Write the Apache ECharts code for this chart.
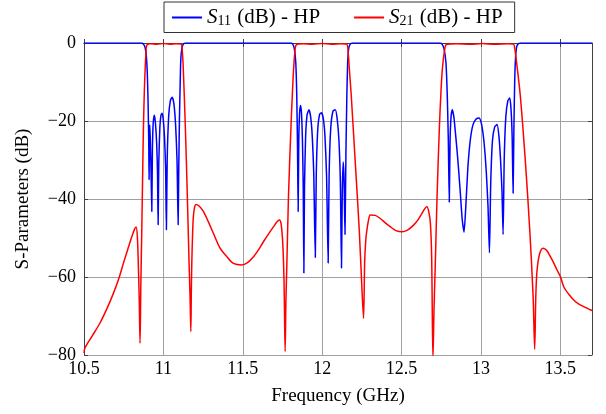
<!DOCTYPE html>
<html>
<head>
<meta charset="utf-8">
<script src="https://cdn.jsdelivr.net/npm/echarts@6.0.0/dist/echarts.min.js"></script>
<style>
  html, body { margin: 0; padding: 0; background: #fff; }
  #chart { width: 606px; height: 414px; }
</style>
</head>
<body>
<div id="chart"></div>
<script>
// S11 (dB) - HP as [GHz, dB]
const s11Points = [
  [10.50, 0], [10.86, 0], [10.875, -0.3], [10.885, -1.2], [10.893, -3.5], [10.899, -8],
  [10.904, -16], [10.908, -26], [10.910, -35], [10.912, -24], [10.914, -21], [10.917, -24],
  [10.922, -32], [10.927, -43.2], [10.931, -27], [10.936, -20.5], [10.943, -18.5], [10.950, -20.5],
  [10.958, -26], [10.963, -33], [10.967, -46.6], [10.971, -31], [10.978, -21.5], [10.985, -18.5],
  [10.992, -18], [10.999, -19.5], [11.007, -24], [11.014, -32], [11.019, -47.9], [11.024, -30],
  [11.033, -19], [11.044, -14.8], [11.055, -13.9], [11.066, -15.5], [11.077, -21], [11.086, -30],
  [11.093, -46.6], [11.097, -32], [11.101, -20], [11.106, -10], [11.110, -4], [11.116, -1.5],
  [11.124, -0.4], [11.14, 0],
  [11.80, 0], [11.815, -0.3], [11.825, -1.5], [11.834, -5], [11.840, -13], [11.845, -27],
  [11.849, -43.2], [11.853, -25], [11.858, -18], [11.864, -16], [11.870, -18], [11.876, -25],
  [11.881, -37], [11.885, -59], [11.889, -37], [11.896, -24], [11.905, -18.5], [11.917, -17.1],
  [11.928, -19], [11.938, -24], [11.947, -33], [11.957, -55], [11.963, -34], [11.972, -22.5],
  [11.984, -18.3], [11.996, -17.9], [12.008, -19.5], [12.018, -24], [12.028, -34], [12.038, -56.4],
  [12.044, -34], [12.054, -22], [12.068, -17.5], [12.083, -17.1], [12.095, -19.5], [12.106, -25],
  [12.115, -36], [12.122, -57.7], [12.127, -38], [12.133, -30.5], [12.138, -35], [12.144, -49.1],
  [12.150, -28], [12.156, -13], [12.161, -5], [12.167, -1.5], [12.175, -0.4], [12.19, 0],
  [12.74, 0], [12.755, -0.3], [12.768, -1.5], [12.780, -5], [12.788, -13], [12.795, -25],
  [12.801, -40.8], [12.806, -25], [12.812, -19], [12.820, -17.1], [12.830, -19], [12.842, -24],
  [12.855, -30], [12.868, -37], [12.882, -45], [12.894, -48.5], [12.905, -42], [12.918, -32],
  [12.933, -25], [12.950, -21], [12.970, -19.5], [12.989, -19.2], [13.005, -21], [13.020, -25.5],
  [13.034, -33], [13.045, -42], [13.054, -53.8], [13.062, -36], [13.073, -25], [13.087, -21.5],
  [13.102, -20.9], [13.114, -24], [13.124, -30], [13.133, -38], [13.140, -49.1], [13.147, -30],
  [13.157, -19], [13.170, -14.8], [13.182, -14.1], [13.190, -17], [13.197, -24], [13.203, -38.5],
  [13.208, -22], [13.213, -10], [13.218, -4], [13.224, -1.3], [13.232, -0.4], [13.25, 0],
  [13.70, 0]
];

// S21 (dB) - HP as [GHz, dB]
const s21Points = [
  [10.50, -79.5], [10.506, -78.2], [10.55, -75.2], [10.601, -71.8], [10.65, -67.6], [10.685, -64.2],
  [10.72, -60.3], [10.748, -56.5], [10.775, -53], [10.801, -49.7], [10.818, -47.8], [10.828, -47.2],
  [10.836, -49.5], [10.842, -56.5], [10.848, -66], [10.853, -77], [10.858, -62], [10.864, -48],
  [10.869, -35], [10.874, -22.3], [10.880, -12.5], [10.885, -6.9], [10.890, -2.8], [10.895, -0.6],
  [10.92, -0.2], [10.96, -0.3], [11.00, -0.15], [11.04, -0.3], [11.08, -0.2], [11.112, -0.3],
  [11.118, -1.5], [11.124, -5.2], [11.139, -22.3], [11.151, -39.4], [11.162, -56.5], [11.168, -65],
  [11.173, -74], [11.176, -64], [11.179, -56.5], [11.184, -49], [11.189, -44.5], [11.197, -42],
  [11.206, -41.4], [11.225, -41.8], [11.252, -43.2], [11.285, -46], [11.315, -48.8], [11.357, -52.6],
  [11.400, -54.8], [11.441, -56.5], [11.494, -56.9], [11.530, -56.3], [11.568, -54.8], [11.600, -53],
  [11.631, -50.9], [11.665, -48.8], [11.694, -47.1], [11.715, -45.9], [11.731, -45.4], [11.742, -46.5],
  [11.752, -51.4], [11.760, -61], [11.767, -79.1], [11.772, -66], [11.778, -56.5], [11.788, -39.4],
  [11.803, -22.3], [11.812, -13.5], [11.820, -6.9], [11.828, -2.5], [11.837, -0.5],
  [11.88, -0.2], [11.94, -0.3], [12.00, -0.15], [12.06, -0.3], [12.12, -0.2], [12.155, -0.3],
  [12.165, -3], [12.172, -7], [12.184, -13.8], [12.209, -30.8], [12.234, -48], [12.253, -65],
  [12.261, -70.6], [12.268, -56], [12.275, -50.5], [12.282, -48], [12.292, -45.5], [12.303, -44.1],
  [12.335, -44.2], [12.366, -45], [12.400, -46.2], [12.429, -47.1], [12.465, -48.1], [12.503, -48.4],
  [12.540, -47.9], [12.576, -46.7], [12.605, -45.3], [12.629, -43.7], [12.648, -42.4], [12.660, -42],
  [12.672, -43.3], [12.682, -46.2], [12.690, -55], [12.698, -81], [12.705, -68], [12.713, -56.5],
  [12.724, -39.4], [12.738, -22.3], [12.748, -13], [12.757, -6.9], [12.770, -2.3], [12.783, -0.4],
  [12.85, -0.2], [12.93, -0.3], [13.01, -0.15], [13.09, -0.3], [13.17, -0.2], [13.205, -0.3],
  [13.215, -1.8], [13.225, -5], [13.249, -13.8], [13.281, -30.8], [13.308, -48], [13.329, -65],
  [13.339, -78.5], [13.346, -65], [13.354, -58.2], [13.371, -53.9], [13.392, -52.6], [13.415, -53.2],
  [13.438, -54.8], [13.460, -56.5], [13.480, -58.2], [13.501, -59.9], [13.522, -62.5], [13.555, -64.5],
  [13.585, -65.9], [13.615, -66.9], [13.648, -67.6], [13.70, -68.6]
];

const seriesNames = ['S11', 'S21'];
const seriesColors = ['#0000ff', '#ff0000'];

const serif = 'Liberation Serif';
const chart = echarts.init(document.getElementById('chart'));

const gridLine = { show: true, lineStyle: { color: '#a0a0a0', width: 1 } };
const frameLine = { show: true, lineStyle: { color: '#404040', width: 1 } };
const innerTick = { show: true, inside: true, length: 4, lineStyle: { color: '#404040' } };

const option = {
  animation: false,
  textStyle: { fontFamily: serif },
  grid: { left: 84, right: 14, top: 43, bottom: 59, show: false },
  legend: {
    data: seriesNames,
    left: 164,
    top: 2,
    padding: [5, 12, 4, 8],
    itemGap: 34,
    itemWidth: 30,
    itemHeight: 2,
    icon: 'rect',
    borderColor: '#333',
    borderWidth: 1,
    borderRadius: 0,
    formatter: name => '{s|S}{sub|' + name.slice(1) + '}{t| (dB) - HP}',
    textStyle: {
      fontFamily: serif,
      rich: {
        s: { fontSize: 21, fontStyle: 'italic', fontFamily: serif, color: '#000' },
        sub: { fontSize: 14, fontFamily: serif, color: '#000', padding: [8, 1, 0, 0] },
        t: { fontSize: 21, fontFamily: serif, color: '#000' }
      }
    }
  },
  xAxis: [{
    type: 'value',
    min: 10.5,
    max: 13.7,
    interval: 0.5,
    name: 'Frequency (GHz)',
    nameLocation: 'middle',
    nameGap: 32,
    nameTextStyle: { fontFamily: serif, fontSize: 19, color: '#000' },
    axisLine: frameLine,
    axisTick: innerTick,
    splitLine: gridLine,
    axisLabel: {
      fontFamily: serif, fontSize: 18, color: '#000', margin: 5,
      showMaxLabel: false
    }
  }, {
    type: 'value',
    position: 'top',
    min: 10.5,
    max: 13.7,
    interval: 0.5,
    axisLine: frameLine,
    axisTick: innerTick,
    axisLabel: { show: false },
    splitLine: { show: false }
  }],
  yAxis: [{
    type: 'value',
    min: -80,
    max: 0,
    interval: 20,
    name: 'S-Parameters (dB)',
    nameLocation: 'middle',
    nameGap: 51,
    nameTextStyle: { fontFamily: serif, fontSize: 19, color: '#000' },
    axisLine: frameLine,
    axisTick: innerTick,
    splitLine: gridLine,
    axisLabel: {
      fontFamily: serif, fontSize: 18, color: '#000', margin: 8,
      formatter: v => String(v).replace('-', '\u2212')
    }
  }, {
    type: 'value',
    position: 'right',
    min: -80,
    max: 0,
    interval: 20,
    axisLine: frameLine,
    axisTick: innerTick,
    axisLabel: { show: false },
    splitLine: { show: false }
  }],
  series: [
    {
      name: seriesNames[0],
      type: 'line',
      data: s11Points,
      showSymbol: false,
      smooth: 0.2,
      color: seriesColors[0],
      lineStyle: { width: 1.5, color: seriesColors[0] },
      z: 3
    },
    {
      name: seriesNames[1],
      type: 'line',
      data: s21Points,
      showSymbol: false,
      smooth: 0.3,
      color: seriesColors[1],
      lineStyle: { width: 1.5, color: seriesColors[1] },
      z: 4
    }
  ]
};

chart.setOption(option);
</script>
</body>
</html>
